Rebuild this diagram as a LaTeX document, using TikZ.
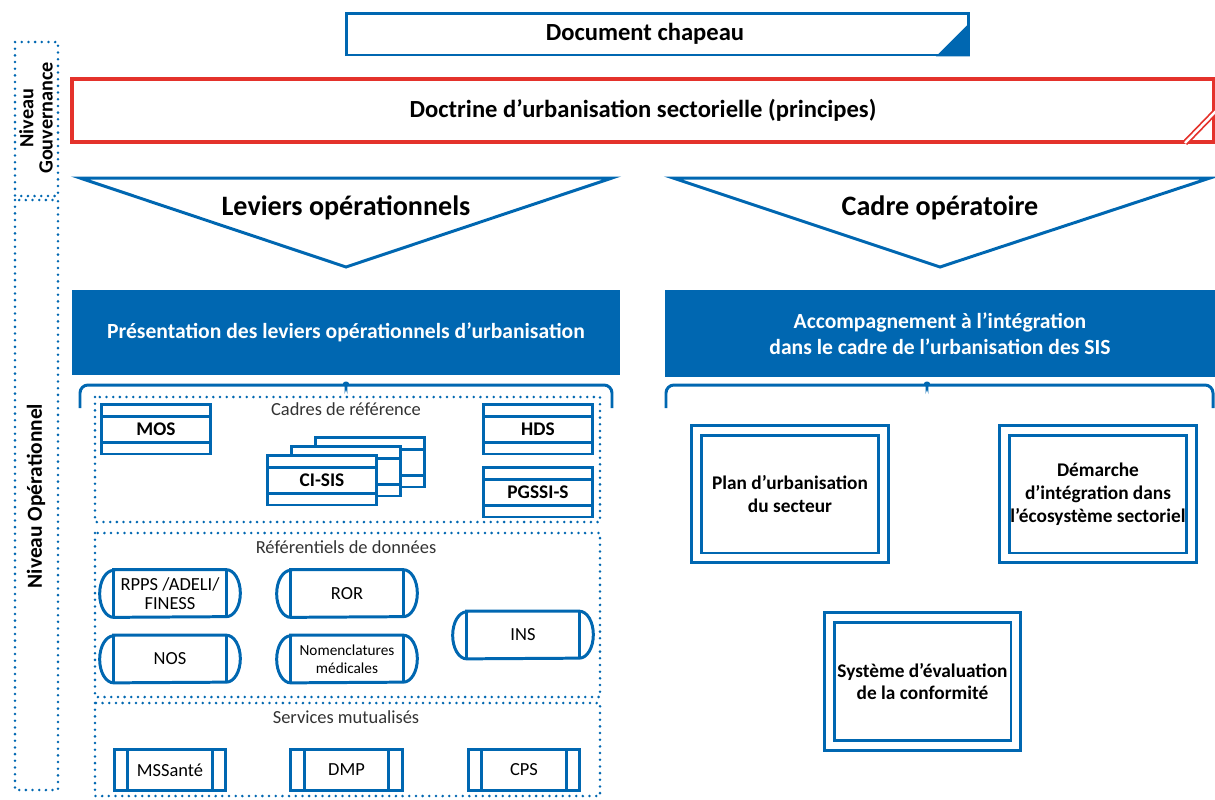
\documentclass[tikz,border=0pt]{standalone}
\usepackage{fontspec}
\setmainfont{Carlito}
\usetikzlibrary{positioning,calc}

\definecolor{urbblue}{HTML}{0067B1}
\definecolor{urbred}{HTML}{E4322B}

% cadre a bandes : nom, position, texte
\newcommand{\bandbox}[3]{%
  \node[band] (#1) at (#2) {#3};
  \draw[bline] ([yshift=-0.28cm]#1.north west) -- ([yshift=-0.28cm]#1.north east);
  \draw[bline] ([yshift=0.26cm]#1.south west) -- ([yshift=0.26cm]#1.south east);}
% referentiel arrondi : nom, position, texte
\newcommand{\refcaps}[3]{%
  \node[caps] (#1) at (#2) {#3};
  \draw[bline] (#1.north west) -- (#1.north east)
    arc[start angle=90,end angle=-90,x radius=0.28cm,y radius=0.47cm]
    -- (#1.south west)
    arc[start angle=270,end angle=90,x radius=0.28cm,y radius=0.47cm] -- cycle;
  \draw[bline] (#1.north west) -- (#1.south west);
  \draw[bline] (#1.north east) -- (#1.south east);}
% service mutualise : nom, position, texte
\newcommand{\servbox}[3]{%
  \node[serv] (#1) at (#2) {#3};
  \draw[bline] ([xshift=0.3cm]#1.north west) -- ([xshift=0.3cm]#1.south west);
  \draw[bline] ([xshift=-0.3cm]#1.north east) -- ([xshift=-0.3cm]#1.south east);}

\begin{document}
\begin{tikzpicture}[x=0.02cm,y=-0.02cm,
    bline/.style={draw=urbblue,line width=1.7pt},
    dots/.style={draw=urbblue,line width=1.6pt,line cap=round,dash pattern=on 0pt off 3.8pt},
    band/.style={bline,fill=white,minimum width=2.18cm,minimum height=1cm,inner sep=0pt,font=\bfseries\fontsize{11}{13}\selectfont},
    caps/.style={minimum width=2.24cm,minimum height=0.94cm,inner sep=0pt,align=center,font=\fontsize{10.5}{10.5}\selectfont},
    serv/.style={bline,minimum width=2.24cm,minimum height=0.82cm,inner sep=0pt,font=\fontsize{10.5}{12}\selectfont},
    dframe/.style={draw=urbblue,line width=1.7pt,double=white,double distance=0.14cm,minimum width=3.74cm,minimum height=2.56cm,inner sep=0pt,align=center,font=\bfseries\fontsize{11}{13}\selectfont},
    title/.style={font=\fontsize{10.5}{12}\selectfont,text=black!80},
    banner/.style={fill=urbblue,text=white,align=center,inner sep=0pt,font=\bfseries\fontsize{12.3}{14.7}\selectfont},
    big/.style={font=\bfseries\fontsize{16}{19}\selectfont}]
  \useasboundingbox (0,0) rectangle (1215,799);

  % niveaux
  \draw[dots] (15,42) rectangle (58,196);
  \draw[dots] (15,200) rectangle (58,790);
  \node[rotate=90,align=center,inner sep=0pt,font=\bfseries\fontsize{11.5}{11}\selectfont] (gouv) at (36,118) {Niveau\\Gouvernance};
  \node[rotate=90,font=\bfseries\fontsize{12.2}{14}\selectfont] (oper) at (36,496) {Niveau Opérationnel};

  % gouvernance
  \node[bline,minimum width=12.44cm,minimum height=0.84cm,inner sep=0pt] (doc) at (657.5,34) {};
  \node[font=\bfseries\fontsize{14}{16}\selectfont] (docT) at (645,34) {Document chapeau};
  \fill[urbblue] ([xshift=-0.68cm]doc.south east) -- (doc.south east) -- ([yshift=0.68cm]doc.south east) -- cycle;
  \node[draw=urbred,line width=2pt,minimum width=22.84cm,minimum height=1.26cm,inner sep=0pt,font=\bfseries\fontsize{14}{16}\selectfont] (doctrine) at (643,110.5) {Doctrine d’urbanisation sectorielle (principes)};
  \draw[urbred,line width=1pt,double=white,double distance=1.4pt] (1185,143) -- (1217,110);

  % leviers et cadre
  \draw[bline] (80,178) -- (612,178) -- (346,267) -- cycle;
  \node[big] (levT) at (346,208) {Leviers opérationnels};
  \draw[bline] (673,178) -- (1210,178) -- (940,267) -- cycle;
  \node[big] (cadT) at (940,208) {Cadre opératoire};

  \node[banner,minimum width=10.96cm,minimum height=1.7cm] (presL) at (346,332.5) {Présentation des leviers opérationnels d’urbanisation};
  \node[banner,minimum width=11cm,minimum height=1.74cm] (accR) at (940,333.5) {Accompagnement à l’intégration\\dans le cadre de l’urbanisation des SIS};

  \draw[bline,rounded corners=0.16cm] (80,408) -- (80,385) -- (338,385) to[out=0,in=270] (346,377) to[out=270,in=180] (354,385) -- (612,385) -- (612,408);
  \draw[bline,rounded corners=0.16cm] (666,408) -- (666,385) -- (919,385) to[out=0,in=270] (927,377) to[out=270,in=180] (935,385) -- (1213,385) -- (1213,408);

  % cadres de reference
  \draw[dots] (95,397) rectangle (600,522);
  \node[title] (cadres) at (346,409) {Cadres de référence};
  \bandbox{mos}{156,429}{MOS}
  \bandbox{hds}{538,429}{HDS}
  \bandbox{pgssi}{538,492}{PGSSI-S}
  \bandbox{cisisC}{370,462}{}
  \bandbox{cisisB}{346,471}{}
  \bandbox{cisis}{322,480}{CI-SIS}

  % referentiels de donnees
  \draw[dots] (95,533) rectangle (600,697);
  \node[title] (refs) at (346,547) {Référentiels de données};
  \refcaps{rpps}{170,593.5}{RPPS /ADELI/\\FINESS}
  \refcaps{ror}{347,593.5}{ROR}
  \refcaps{nos}{170,659}{NOS}
  \refcaps{nomen}{347,659}{\fontsize{8.7}{10}\selectfont Nomenclatures\\\fontsize{8.7}{10}\selectfont médicales}
  \refcaps{ins}{523,635}{INS}

  % services mutualises
  \draw[dots] (95,703) rectangle (600,796);
  \node[title] (servs) at (346,717) {Services mutualisés};
  \servbox{mss}{170,770}{MSSanté}
  \servbox{dmp}{346.5,770}{DMP}
  \servbox{cps}{524,770}{CPS}

  % cadre operatoire
  \node[dframe] (plan) at (790,494) {Plan d’urbanisation\\du secteur};
  \node[dframe] (demarche) at (1098,494) {Démarche\\d’intégration dans\\l’écosystème sectoriel};
  \node[dframe] (eval) at (922.5,681.5) {Système d’évaluation\\de la conformité};
\end{tikzpicture}
\end{document}
